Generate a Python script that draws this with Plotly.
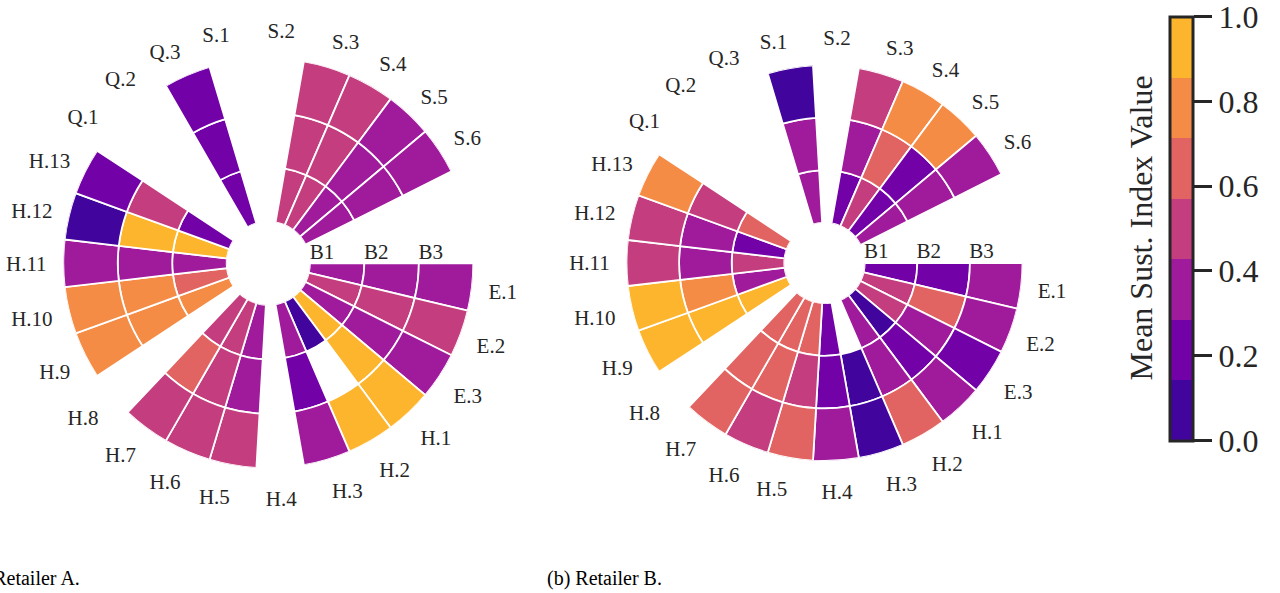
import plotly.graph_objects as go

# ---------------- data ----------------
categories = ["E.1", "E.2", "E.3",
              "H.1", "H.2", "H.3", "H.4", "H.5", "H.6", "H.7", "H.8", "H.9",
              "H.10", "H.11", "H.12", "H.13",
              "Q.1", "Q.2", "Q.3",
              "S.1", "S.2", "S.3", "S.4", "S.5", "S.6"]
ring_labels = ["B1", "B2", "B3"]
N = None

# Retailer A – mean sustainability index per category and ring
a_b1 = [0.36, 0.50, 0.36, 0.93, 0.07, 0.36, N, 0.36, 0.50, 0.50, N, 0.78, 0.64,
        0.36, 0.93, 0.21, N, N, 0.21, N, N, 0.50, 0.50, 0.36, 0.36]
a_b2 = [0.36, 0.50, 0.36, 0.93, N, 0.21, N, 0.36, 0.50, 0.64, N, 0.78, 0.78,
        0.36, 0.93, 0.50, N, N, 0.21, N, N, 0.50, 0.50, 0.36, 0.36]
a_b3 = [0.36, 0.50, 0.36, 0.93, 0.93, 0.36, N, 0.50, 0.50, 0.50, N, 0.78, 0.78,
        0.36, 0.07, 0.21, N, N, 0.21, N, N, 0.50, 0.50, 0.36, 0.36]

# Retailer B
b_b1 = [0.21, 0.50, 0.50, 0.07, 0.36, N, 0.21, 0.64, 0.64, 0.64, N, 0.93, 0.36,
        0.50, 0.21, 0.64, N, N, N, 0.36, N, 0.21, 0.50, 0.21, 0.36]
b_b2 = [0.21, 0.64, 0.36, 0.21, 0.36, 0.07, 0.21, 0.50, 0.64, 0.64, N, 0.93, 0.78,
        0.36, 0.36, 0.50, N, N, N, 0.36, N, 0.36, 0.64, 0.21, 0.36]
b_b3 = [0.36, 0.36, 0.21, 0.36, 0.64, 0.07, 0.36, 0.64, 0.50, 0.64, N, 0.93, 0.93,
        0.50, 0.50, 0.78, N, N, N, 0.07, N, 0.50, 0.78, 0.78, 0.36]

cbar_tickvals = [0.0, 0.2, 0.4, 0.6, 0.8, 1.0]
cbar_ticktext = ["0.0", "0.2", "0.4", "0.6", "0.8", "1.0"]

# ---------------- style ----------------
bin_colors = ["#41049d", "#7201a8", "#a01a9c", "#c43e7f",
              "#e16462", "#f58c46", "#fdb52e"]
nb = len(bin_colors)
colorscale = []
for k, c in enumerate(bin_colors):
    colorscale.append([k / nb, c])
    colorscale.append([(k + 1) / nb, c])

FONT = "Liberation Serif"
TXT = "#262626"
n_slots = len(categories) + 2          # two empty slots between S.6 and E.1
step = 360.0 / n_slots
centers = [step / 2 + step * i for i in range(len(categories))]

W, H = 1280, 593


def px_x(x):
    return x / W


def px_y(y):
    return 1 - y / H


def dom(x0, x1, y0, y1):
    return dict(x=[px_x(x0), px_x(x1)], y=[px_y(y1), px_y(y0)])


fig = go.Figure()


def add_chart(rings, polar, show_scale):
    for j, vals in enumerate(rings):
        th, col = [], []
        for c, v in zip(centers, vals):
            if v is not None:
                th.append(c)
                col.append(v)
        fig.add_trace(go.Barpolar(
            theta=th, r=[1] * len(th), base=[j] * len(th), width=step,
            subplot=polar,
            marker=dict(color=col, colorscale=colorscale, cmin=0, cmax=1,
                        line=dict(color="white", width=1.8),
                        showscale=show_scale and j == 0,
                        colorbar=dict(
                            thickness=23, len=424, lenmode="pixels",
                            x=px_x(1170), xanchor="left", xpad=0,
                            y=px_y(228.5), yanchor="middle", ypad=0,
                            outlinewidth=3, outlinecolor=TXT,
                            tickmode="array", tickvals=cbar_tickvals,
                            ticktext=cbar_ticktext, ticklabeloverflow="allow",
                            ticks="outside", ticklen=18, tickwidth=3,
                            tickcolor=TXT,
                            tickfont=dict(family=FONT, size=32, color=TXT))),
            hoverinfo="skip", showlegend=False))


add_chart([a_b1, a_b2, a_b3], "polar", True)
add_chart([b_b1, b_b2, b_b3], "polar2", False)

polar_common = dict(
    bgcolor="white", hole=0.203,
    angularaxis=dict(direction="clockwise", rotation=0, thetaunit="degrees",
                     tickmode="array", tickvals=centers, ticktext=categories,
                     showgrid=False, showline=False, ticks="outside",
                     ticklen=12, tickcolor="rgba(0,0,0,0)",
                     tickfont=dict(family=FONT, size=21, color=TXT)),
    radialaxis=dict(range=[0, 3], angle=0, side="counterclockwise",
                    tickmode="array", tickvals=[0.22, 1.22, 2.22],
                    ticktext=ring_labels, showgrid=False, showline=False,
                    ticks="", tickangle=0,
                    tickfont=dict(family=FONT, size=21, color=TXT)),
)

fig.update_layout(
    width=W, height=H, paper_bgcolor="white", plot_bgcolor="white",
    margin=dict(l=0, r=0, t=0, b=0),
    polar=dict(domain=dom(63.3, 473.3, 58.3, 468.3), **polar_common),
    polar2=dict(domain=dom(626.5, 1022.5, 65, 461), **polar_common),
    annotations=[
        dict(text="Mean Sust. Index Value", xref="paper", yref="paper",
             x=px_x(1140), y=px_y(228.5), xanchor="center", yanchor="middle",
             textangle=-90, showarrow=False,
             font=dict(family=FONT, size=32, color=TXT)),
        dict(text="(a) Retailer A.", xref="paper", yref="paper",
             x=px_x(82), y=px_y(578), xanchor="right", yanchor="middle",
             showarrow=False, font=dict(family=FONT, size=20, color="black")),
        dict(text="(b) Retailer B.", xref="paper", yref="paper",
             x=px_x(545), y=px_y(578), xanchor="left", yanchor="middle",
             showarrow=False, font=dict(family=FONT, size=20, color="black")),
    ],
)

fig.write_html("out.html",
               config={"displayModeBar": False},
               post_script="document.body.style.margin='0';"
                           "document.body.style.overflow='hidden';")
